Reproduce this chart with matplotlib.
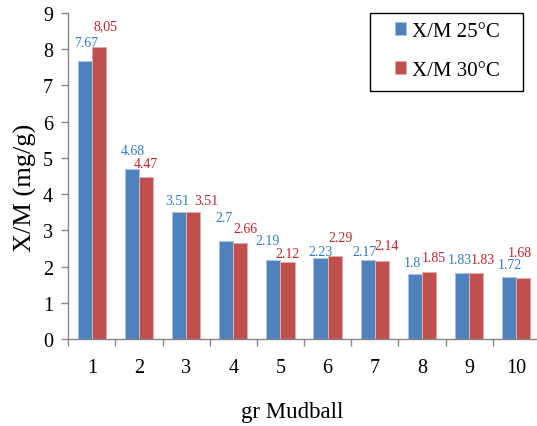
import matplotlib
matplotlib.use("Agg")
import matplotlib.pyplot as plt
from matplotlib.patches import Rectangle
import numpy as np

categories = ["1", "2", "3", "4", "5", "6", "7", "8", "9", "10"]
xm_25 = [7.67, 4.68, 3.51, 2.7, 2.19, 2.23, 2.17, 1.8, 1.83, 1.72]
xm_30 = [8.05, 4.47, 3.51, 2.66, 2.12, 2.29, 2.14, 1.85, 1.83, 1.68]
labels_25 = ["7.67", "4.68", "3.51", "2.7", "2.19", "2.23", "2.17", "1.8", "1.83", "1.72"]
labels_30 = ["8,05", "4.47", "3.51", "2.66", "2.12", "2.29", "2.14", "1.85", "1.83", "1.68"]
series_names = ["X/M 25°C", "X/M 30°C"]

# label offsets in pixels (dx, dy) relative to bar top centre
off_25 = [(1, 19), (1, 19), (-2, 11), (-2, 24), (-6, 19), (0, 7), (-3, 9), (-2, 11), (-2, 13), (1, 12)]
off_30 = [(7, 22), (0, 14), (13, 11), (5, 14), (0, 9), (6, 19), (5, 16), (5, 14), (7, 13), (-4, 26)]

plt.rcParams['font.family'] = ['Liberation Serif', 'DejaVu Serif']

W, H = 537, 427
fig = plt.figure(figsize=(W / 100, H / 100), dpi=100)
ax = fig.add_axes([68.3 / W, 1 - 340 / H, (539.8 - 68.3) / W, (340 - 14) / H])

blue = '#4F81BD'
red = '#C0504D'
x = np.arange(1, len(categories) + 1)
bw = 0.3
b1 = ax.bar(x - bw / 2, xm_25, bw, color=blue, edgecolor='#A9C3E3', linewidth=0.7, label=series_names[0])
b2 = ax.bar(x + bw / 2, xm_30, bw, color=red, edgecolor='#E3AEAC', linewidth=0.7, label=series_names[1])

for xi, v, t, (dx, dy) in zip(x, xm_25, labels_25, off_25):
    ax.annotate(t, (xi - bw / 2, v), xytext=(dx, dy), textcoords='offset pixels',
                ha='center', va='center', fontsize=10, color='#2E7BCF')
for xi, v, t, (dx, dy) in zip(x, xm_30, labels_30, off_30):
    ax.annotate(t, (xi + bw / 2, v), xytext=(dx, dy), textcoords='offset pixels',
                ha='center', va='center', fontsize=10, color='#C8202A')

ax.set_xlim(0.5, len(categories) + 0.5)
ax.set_ylim(0, 9)
ax.set_yticks(range(0, 10))
ax.set_xticks(x)
ax.set_xticklabels(categories)
ax.set_xticks(np.arange(0.5, len(categories) + 1, 1), minor=True)
ax.tick_params(axis='x', which='major', length=0, pad=14, labelsize=14.5)
ax.tick_params(axis='x', which='minor', length=5, direction='out', color='#868686', width=1)
ax.tick_params(axis='y', length=5, direction='out', color='#868686', width=1, pad=6, labelsize=14.5)

for s in ['top', 'right']:
    ax.spines[s].set_visible(False)
for s in ['left', 'bottom']:
    ax.spines[s].set_color('#868686')
    ax.spines[s].set_linewidth(1)

ax.set_ylabel('X/M (mg/g)', fontsize=19)
ax.yaxis.set_label_coords(-(68.3 - 25) / 471.5, (340 - 188) / 326)
ax.set_xlabel('gr Mudball', fontsize=16.5)
ax.xaxis.set_label_coords((292 - 68.3) / 471.5, -(413 - 340) / 326)
ax.xaxis.label.set_va('center')
ax.yaxis.label.set_va('center')

# legend frame
fig.patches.append(Rectangle((370 / W, 1 - 92 / H), (523 - 370) / W, (92 - 14) / H,
                             transform=fig.transFigure, fill=False, edgecolor='black', linewidth=1))
fig.legend(handles=[b1, b2], labels=series_names, loc='center left',
           bbox_to_anchor=(395 / W, 1 - 52 / H), frameon=False, fontsize=15,
           handlelength=0.55, handleheight=0.55, handletextpad=0.25, labelspacing=0.95,
           borderpad=0, borderaxespad=0)

fig.savefig('out.png', dpi=100)
